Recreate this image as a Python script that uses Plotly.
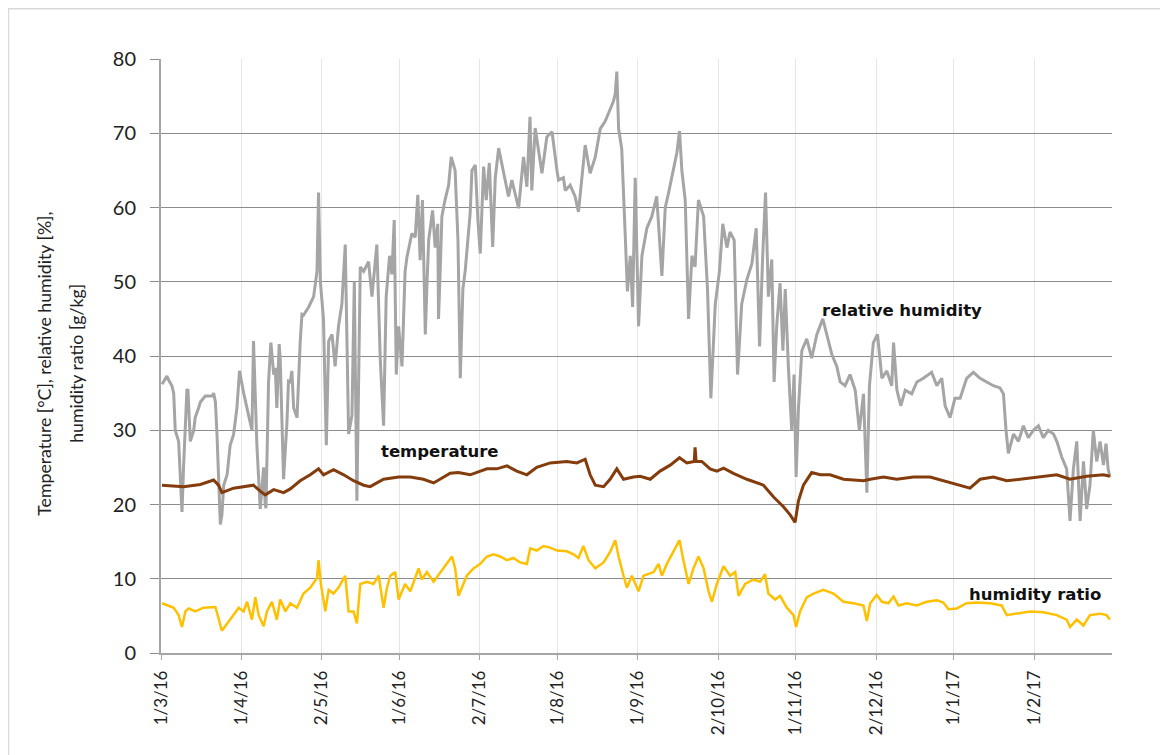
import pandas as pd
import plotly.graph_objects as go

START = "2016-03-01"

# Relative humidity [%] : day offset from 1/3/16, value
rh_day = [0.4, 2.3, 2.9, 4.2, 4.9, 5.5, 6.8, 8.1, 8.7, 9.1, 10.0, 10.4, 11.3, 12.6, 13.2, 14.5, 15.2, 17.1,
          19.7, 20.3, 21.0, 21.6, 22.9, 23.5, 24.2, 25.5, 26.7, 28.0, 29.3, 30.3, 31.9, 33.8, 35.1, 35.7, 37.0,
          38.3, 39.6, 40.2, 40.5, 41.5, 42.4, 43.5, 44.1, 44.7, 45.6, 46.0, 47.3, 48.6, 49.2, 49.9, 50.5, 51.2,
          52.5, 53.7, 54.4, 55.0, 57.0, 58.9, 60.2, 60.8, 61.5, 62.7, 63.8, 64.7, 66.0, 67.2, 68.5, 69.8,
          71.1, 72.4, 73.7, 74.6, 75.6, 76.9, 78.2, 80.1, 81.4, 83.3, 84.6, 85.9, 86.9, 88.2, 89.1, 90.0, 90.8,
          91.7, 93.0, 94.2, 94.9, 96.8, 98.1, 99.1, 100.0, 100.9, 102.0, 102.6, 103.3, 104.8, 105.8, 106.8,
          107.1, 107.7, 108.4, 109.6, 111.0, 112.0, 113.5, 114.6, 115.5, 116.5, 117.4, 119.3, 120.0, 121.3,
          122.3, 123.2, 124.5, 125.5, 126.7, 128.0, 129.0, 130.3, 132.2, 132.8, 134.1, 135.4, 138.0, 139.9,
          141.2, 142.4, 143.1, 144.4, 146.3, 147.0, 148.9, 150.9, 152.8, 153.4, 155.3, 156.0,
          157.9, 159.8, 161.1, 162.4, 163.7, 165.6, 167.6, 169.5, 171.4, 173.3, 174.6,
          175.3, 175.9, 176.6, 177.8, 179.1, 180.0, 181.1, 182.0, 183.0, 184.3, 185.6, 187.5, 189.4, 191.3,
          193.3, 194.6, 195.9, 197.8, 199.1, 200.1, 201.0, 202.3, 203.6, 204.9, 206.1, 207.4, 209.4, 210.9,
          212.2, 213.9, 215.5, 216.8, 218.4, 219.6, 221.2, 222.5, 224.1, 226.1, 228.0, 229.7, 231.0, 232.2,
          233.3, 234.4, 235.7, 236.6, 237.6, 238.9, 240.0, 240.9, 242.1, 243.4, 244.3, 245.1, 246.0, 247.3,
          249.2, 251.1, 253.1, 255.4, 256.9, 258.9, 260.8, 262.1, 264.0, 265.9, 267.9, 269.5, 271.1, 272.4,
          273.4, 274.9, 276.5, 278.2, 280.1, 282.0, 282.7, 284.0, 285.5, 287.2, 289.7, 291.7, 294.2, 297.4,
          299.4, 301.3, 302.6, 304.5, 306.4, 308.4, 310.9, 313.5, 316.1, 318.7, 321.2, 323.8, 325.1, 326.1,
          327.0, 329.0, 330.9, 332.8, 334.7, 336.7, 338.6, 340.5, 342.4, 344.4, 345.7, 347.6, 349.5, 350.8,
          352.1, 353.4, 354.7, 356.0, 357.2, 358.5, 359.8, 361.1, 362.4, 363.7, 364.7, 365.5, 366.2]
rh_val = [36.2, 37.3, 36.8, 36.0, 35.0, 30.0, 28.5, 19.0, 25.0, 28.5, 35.4, 35.5, 28.5, 29.9, 31.7, 33.0, 33.8, 34.6,
          34.6, 35.0, 33.8, 29.5, 17.3, 18.6, 22.6, 24.0, 28.0, 29.4, 33.0, 38.0, 35.0, 32.0, 30.0, 42.0, 28.0,
          19.4, 25.0, 20.0, 19.5, 36.5, 41.8, 37.5, 38.4, 33.0, 41.6, 39.7, 23.4, 31.0, 36.6, 36.5, 38.0, 33.0,
          31.7, 41.8, 45.6, 45.5, 46.6, 48.0, 51.4, 62.0, 50.0, 45.0, 28.0, 42.0, 42.9, 38.6, 44.0, 47.0,
          55.0, 29.5, 32.0, 50.0, 20.5, 52.0, 51.4, 52.7, 48.0, 55.0, 39.7, 30.6, 48.0, 53.5, 51.0, 58.3, 37.5,
          44.0, 38.6, 51.4, 53.3, 56.5, 56.0, 61.7, 52.9, 61.0, 42.9, 49.3, 55.6, 59.6, 54.6, 57.8,
          45.0, 51.0, 58.8, 61.0, 63.0, 66.8, 65.0, 55.6, 37.0, 49.0, 51.5, 59.2, 65.0, 65.7,
          58.3, 53.8, 65.5, 61.0, 66.0, 54.7, 64.0, 68.0, 65.0, 63.7, 61.5, 63.7, 59.9, 66.8,
          62.8, 72.2, 62.3, 70.7, 66.3, 64.6, 69.5, 70.2, 65.0, 63.7, 64.0, 62.3,
          63.0, 61.5, 59.4, 63.6, 68.4, 64.6, 66.8, 70.6, 71.6, 73.2, 74.3,
          75.3, 78.3, 70.6, 67.9, 56.7, 48.7, 53.5, 46.6, 64.0, 44.0, 53.5, 57.2, 58.8, 61.5,
          50.8, 60.0, 62.0, 65.0, 67.4, 70.3, 65.0, 61.0, 45.0, 53.5, 52.0, 61.0, 58.8, 49.0,
          34.3, 47.0, 51.4, 57.8, 54.6, 56.7, 55.6, 37.5, 47.0, 50.3, 52.4, 57.2, 41.3, 53.5,
          62.0, 48.0, 53.0, 36.5, 44.0, 49.8, 40.7, 49.0, 38.6, 30.0, 37.5, 23.7, 33.0, 40.7,
          42.3, 39.7, 42.9, 45.0, 42.9, 40.2, 38.6, 36.5, 36.0, 37.5, 35.4, 30.0, 34.9, 21.6,
          36.0, 41.8, 42.9, 37.0, 38.0, 36.0, 41.8, 35.4, 33.3, 35.4, 34.9, 36.5, 37.0, 37.8,
          36.0, 37.0, 33.3, 31.7, 34.3, 34.3, 37.0, 37.8, 37.0, 36.5, 36.0, 35.7, 34.9, 30.0,
          26.9, 29.5, 28.5, 30.6, 29.0, 30.0, 30.6, 29.0, 30.0, 29.5, 28.5, 26.4, 24.8, 17.8,
          24.8, 28.5, 17.8, 25.8, 19.4, 22.6, 30.0, 25.8, 28.5, 25.3, 28.2, 24.8, 23.7]

# Temperature [°C]
t_day = [0.4, 8.7, 15.2, 20.3, 22.2, 23.5, 28.0, 35.7, 38.3, 40.2, 43.5, 47.3, 49.9, 53.7, 57.6, 60.8, 62.7,
         66.6, 70.5, 74.3, 78.2, 80.7, 85.9, 91.7, 96.2, 101.3, 105.2, 111.6, 114.8, 119.3, 125.8, 129.6,
         133.5, 137.3, 141.2, 145.0, 150.2, 156.6, 160.5, 163.7, 165.6, 167.6, 170.8, 173.3, 175.9, 178.5,
         182.3, 184.9, 188.8, 192.6, 196.5, 200.1, 202.9, 205.8, 206.1, 206.5, 208.7, 211.9, 214.5, 217.1,
         220.9, 226.1, 232.5, 236.4, 240.2, 242.8, 244.7, 246.0, 247.9, 251.1, 254.4, 258.2, 263.4, 271.1,
         273.7, 278.8, 283.9, 290.4, 296.8, 301.9, 308.4, 312.2, 316.1, 321.2, 326.4, 331.5, 338.0, 345.7,
         350.8, 357.2, 363.7, 366.2]
t_val = [22.6, 22.4, 22.7, 23.3, 22.6, 21.6, 22.2, 22.6, 21.8, 21.3, 22.0, 21.6, 22.1, 23.2, 24.0, 24.8, 24.0,
         24.7, 24.0, 23.2, 22.6, 22.4, 23.4, 23.7, 23.7, 23.4, 22.9, 24.2, 24.3, 24.0, 24.8, 24.8,
         25.2, 24.5, 24.0, 25.0, 25.6, 25.8, 25.6, 26.1, 24.0, 22.6, 22.4, 23.4, 24.8, 23.4,
         23.7, 23.8, 23.4, 24.5, 25.3, 26.3, 25.6, 25.8, 27.7, 25.8, 25.8, 24.8, 24.5, 24.9,
         24.2, 23.4, 22.6, 21.0, 19.7, 18.6, 17.6, 20.5, 22.6, 24.3, 24.0, 24.0, 23.4, 23.2,
         23.4, 23.7, 23.4, 23.7, 23.7, 23.2, 22.6, 22.2, 23.4, 23.7, 23.2, 23.4, 23.6, 24.0,
         23.4, 23.8, 24.0, 23.8]

# Humidity ratio [g/kg]
w_day = [0.4, 4.9, 6.8, 8.1, 9.4, 10.7, 13.2, 16.4, 21.0, 22.2, 23.5, 26.7, 30.0, 31.9, 33.2, 35.1, 36.4, 37.7,
         39.6, 40.9, 42.8, 44.7, 46.0, 48.0, 49.9, 52.5, 55.0, 57.6, 60.2, 60.8, 61.7, 63.4, 64.7, 66.6, 68.5,
         69.8, 71.1, 72.4, 74.3, 75.6, 76.9, 79.5, 82.0, 84.0, 85.9, 87.2, 88.5, 90.4, 91.7, 92.3, 94.2, 96.2,
         98.1, 99.4, 100.7, 102.6, 105.2, 107.8, 110.3, 112.3, 113.5, 114.8, 116.1, 118.0, 120.6, 123.2,
         125.8, 128.3, 130.9, 133.5, 136.0, 138.6, 141.2, 142.5, 145.0, 147.6, 150.2, 152.8, 156.6, 159.2,
         161.1, 163.0, 165.0, 167.6, 170.8, 173.3, 175.3, 176.6, 178.5, 179.8, 181.7, 183.6, 184.3, 186.2,
         190.1, 192.0, 193.3, 195.2, 197.8, 200.1, 201.6, 203.6, 205.5, 207.4, 209.4, 211.3, 212.6, 214.5,
         217.1, 219.6, 221.6, 222.9, 225.4, 228.6, 231.2, 233.1, 234.4, 237.0, 238.9, 241.5, 244.1, 245.1,
         246.6, 249.2, 251.8, 255.6, 259.5, 263.4, 267.2, 271.1, 272.4, 273.7, 276.2, 278.2, 280.7, 282.7,
         284.6, 287.8, 291.7, 295.5, 299.4, 301.9, 303.9, 307.1, 310.9, 314.8, 319.9, 324.4, 326.4, 330.2,
         335.4, 340.5, 345.7, 349.5, 350.8, 353.4, 356.0, 358.5, 362.4, 364.9, 366.2]
w_val = [6.7, 6.1, 5.1, 3.5, 5.6, 6.0, 5.6, 6.1, 6.2, 4.5, 3.0, 4.5, 6.1, 5.6, 6.9, 4.5, 7.5, 5.1,
         3.6, 5.6, 6.9, 4.5, 7.2, 5.6, 6.7, 6.1, 8.0, 8.8, 10.1, 12.5, 9.3, 5.6, 8.5, 8.0, 8.8,
         9.6, 10.4, 5.6, 5.6, 4.0, 9.3, 9.6, 9.3, 10.4, 6.1, 8.8, 10.4, 10.9, 7.2, 7.7, 9.3, 8.3,
         10.1, 11.4, 9.9, 10.9, 9.6, 10.9, 12.0, 13.0, 11.4, 7.7, 8.8, 10.4, 11.4, 12.0,
         13.0, 13.3, 13.0, 12.5, 12.8, 12.2, 12.0, 14.1, 13.8, 14.4, 14.2, 13.8, 13.7, 13.3,
         12.8, 14.4, 12.5, 11.4, 12.2, 13.6, 15.2, 13.0, 10.4, 8.8, 10.4, 8.8, 8.3, 10.4,
         10.9, 12.0, 10.4, 12.0, 13.6, 15.2, 12.5, 9.3, 11.4, 13.0, 11.4, 8.3, 6.9, 9.3,
         11.7, 10.4, 10.9, 7.7, 9.3, 9.9, 9.6, 10.6, 8.0, 7.2, 7.7, 6.1, 5.1, 3.5,
         5.6, 7.5, 8.0, 8.5, 8.0, 6.9, 6.7, 6.4, 4.3, 6.7, 7.8, 6.9, 6.7, 7.6,
         6.4, 6.7, 6.4, 6.9, 7.1, 6.8, 5.9, 6.0, 6.7, 6.8, 6.7, 6.4, 5.1, 5.3,
         5.6, 5.5, 5.1, 4.5, 3.5, 4.5, 3.7, 5.1, 5.3, 5.1, 4.5]

tick_dates = ["2016-03-01", "2016-04-01", "2016-05-02", "2016-06-01", "2016-07-02", "2016-08-01",
              "2016-09-01", "2016-10-02", "2016-11-01", "2016-12-02", "2017-01-01", "2017-02-01"]
tick_labels = ["1/3/16", "1/4/16", "2/5/16", "1/6/16", "2/7/16", "1/8/16",
               "1/9/16", "2/10/16", "1/11/16", "2/12/16", "1/1/17", "1/2/17"]

start = pd.Timestamp(START)
def to_dates(days):
    return [start + pd.Timedelta(days=d) for d in days]

fig = go.Figure()
fig.add_trace(go.Scatter(x=to_dates(rh_day), y=rh_val, mode="lines", name="relative humidity",
                         line=dict(color="#a5a5a5", width=3)))
fig.add_trace(go.Scatter(x=to_dates(t_day), y=t_val, mode="lines", name="temperature",
                         line=dict(color="#843c0c", width=3)))
fig.add_trace(go.Scatter(x=to_dates(w_day), y=w_val, mode="lines", name="humidity ratio",
                         line=dict(color="#ffc000", width=2.5)))

lbl_font = dict(family="DejaVu Sans", size=16.5, color="#111111")
fig.add_annotation(x=start + pd.Timedelta(days=107.8), y=27.1, text="<b>temperature</b>",
                   showarrow=False, font=lbl_font)
fig.add_annotation(x=start + pd.Timedelta(days=286), y=46.1, text="<b>relative humidity</b>",
                   showarrow=False, font=lbl_font)
fig.add_annotation(x=start + pd.Timedelta(days=337.3), y=7.9, text="<b>humidity ratio</b>",
                   showarrow=False, font=lbl_font)

title_font = dict(family="Lato", size=17.7, color="#222222")
fig.add_annotation(xref="paper", yref="paper", x=-0.122, y=0.487,
                   text="Temperature [°C], relative humidity [%],",
                   textangle=-90, showarrow=False, xanchor="center", yanchor="middle", font=title_font)
fig.add_annotation(xref="paper", yref="paper", x=-0.0883, y=0.487,
                   text="humidity ratio [g/kg]",
                   textangle=-90, showarrow=False, xanchor="center", yanchor="middle", font=title_font)

# chart-area border
fig.add_shape(type="rect", xref="paper", yref="paper", x0=-0.1604, x1=1.2, y0=-0.3, y1=1.0848,
              line=dict(color="#d9d9d9", width=1.5), fillcolor="rgba(0,0,0,0)", layer="below")

fig.update_layout(
    width=1160, height=747,
    margin=dict(l=153, r=56, t=51, b=102),
    paper_bgcolor="white", plot_bgcolor="white",
    showlegend=False,
    font=dict(family="Lato", color="#333333"),
)
fig.update_xaxes(
    range=[start, start + pd.Timedelta(days=367)],
    tickmode="array", tickvals=[pd.Timestamp(d) for d in tick_dates], ticktext=tick_labels,
    tickangle=-90, tickfont=dict(family="Lato", size=17, color="#222222"),
    ticklabelstandoff=4,
    showgrid=True, gridcolor="#e6e6e6", gridwidth=1,
    showline=True, linecolor="#a6a6a6", linewidth=1.5,
    ticks="outside", ticklen=5, tickcolor="#a6a6a6",
    zeroline=False,
)
fig.update_yaxes(
    range=[0, 80], dtick=10, tick0=0,
    tickfont=dict(family="Lato", size=20, color="#222222"),
    ticklabelstandoff=10,
    showgrid=True, gridcolor="#8c8c8c", gridwidth=1,
    showline=True, linecolor="#a6a6a6", linewidth=2,
    ticks="outside", ticklen=9, tickcolor="#8c8c8c",
    zeroline=False,
)

fig.write_html("out.html")
